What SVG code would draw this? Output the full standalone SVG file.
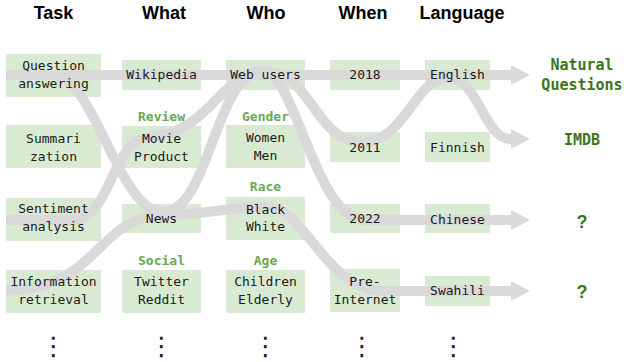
<svg xmlns="http://www.w3.org/2000/svg" width="624" height="362" viewBox="0 0 624 362">
<defs>
<style>
.box{fill:#d9ead3}
.flow{fill:none;stroke:#d9d9d9;stroke-width:10}
.arrowed{marker-end:url(#arrow)}
.hd{font-family:"Liberation Sans",Arial,sans-serif;font-weight:bold;font-size:18px;fill:#000;text-anchor:middle}
.t{font-family:"DejaVu Sans Mono","Liberation Mono",monospace;font-size:13px;fill:#1a1a1a;text-anchor:middle}
.grp{font-family:"DejaVu Sans Mono","Liberation Mono",monospace;font-size:13px;font-weight:bold;fill:#6aa84f;text-anchor:middle}
.res{font-family:"DejaVu Sans Mono","Liberation Mono",monospace;font-size:15px;font-weight:bold;fill:#38761d;text-anchor:middle}
.q{font-family:"Liberation Sans",Arial,sans-serif;font-size:18px;font-weight:bold;fill:#38761d;text-anchor:middle}
.dots{font-family:"DejaVu Sans",sans-serif;font-size:26px;fill:#222;text-anchor:middle}
</style>
<marker id="arrow" markerUnits="userSpaceOnUse" markerWidth="20" markerHeight="20" viewBox="0 0 20 20" refX="0" refY="10" orient="auto">
<path d="M0,0 L19,10 L0,20 Z" fill="#d9d9d9"/>
</marker>
</defs>
<rect width="624" height="362" fill="#fff"/>

<g id="headers">
<text class="hd" x="53.5" y="19">Task</text>
<text class="hd" x="164" y="19">What</text>
<text class="hd" x="266" y="19">Who</text>
<text class="hd" x="363" y="19">When</text>
<text class="hd" x="462" y="19">Language</text>
</g>

<g id="boxes">
<rect id="box-qa" class="box" x="6" y="54" width="95" height="43"/>
<rect id="box-summ" class="box" x="6" y="125" width="95" height="43"/>
<rect id="box-sent" class="box" x="6" y="198" width="95" height="43"/>
<rect id="box-info" class="box" x="6" y="270" width="95" height="43"/>
<rect id="box-wiki" class="box" x="122" y="60" width="79" height="30"/>
<rect id="box-review" class="box" x="122" y="126" width="79" height="42"/>
<rect id="box-news" class="box" x="122" y="204" width="79" height="29"/>
<rect id="box-social" class="box" x="122" y="270" width="79" height="43"/>
<rect id="box-web" class="box" x="226" y="60" width="79" height="30"/>
<rect id="box-gender" class="box" x="226" y="125" width="79" height="43"/>
<rect id="box-race" class="box" x="226" y="197" width="79" height="43"/>
<rect id="box-age" class="box" x="226" y="270" width="79" height="43"/>
<rect id="box-2018" class="box" x="330" y="60" width="70" height="30"/>
<rect id="box-2011" class="box" x="330" y="132" width="70" height="30"/>
<rect id="box-2022" class="box" x="330" y="204" width="70" height="29"/>
<rect id="box-pre" class="box" x="330" y="269" width="70" height="43"/>
<rect id="box-en" class="box" x="425" y="60" width="65" height="30"/>
<rect id="box-fi" class="box" x="425" y="132" width="65" height="30"/>
<rect id="box-zh" class="box" x="425" y="204" width="65" height="29"/>
<rect id="box-sw" class="box" x="425" y="276" width="65" height="30"/>
</g>

<g id="connectors">
<path class="flow arrowed" d="M6,75 H511"/>
<path class="flow arrowed" d="M6,220 H72 C112,220 110,140 150,137 C210,133 222,71 263,71 C313,71 313,142 363,142 C405,142 415,78 447,78 C480,78 483,139 511,139"/>
<path class="flow arrowed" d="M6,75 H52 C95,75 118,212 163,212 C210,212 215,71 263,71 C295,71 315,220 365,220 H511"/>
<path class="flow arrowed" d="M6,290 C100,290 95,216 165,215 C210,214 228,207 268,207 C305,207 325,291 385,291 H511"/>
</g>

<g id="node-qa"><text class="t" x="53.5" y="69.5">Question</text><text class="t" x="53.5" y="87.5">answering</text></g>
<g id="node-summ"><text class="t" x="53.5" y="142.5">Summari</text><text class="t" x="53.5" y="160.5">zation</text></g>
<g id="node-sent"><text class="t" x="53.5" y="213">Sentiment</text><text class="t" x="53.5" y="231">analysis</text></g>
<g id="node-info"><text class="t" x="53.5" y="286">Information</text><text class="t" x="53.5" y="304">retrieval</text></g>

<g id="node-wiki"><text class="t" x="161.5" y="79">Wikipedia</text></g>
<g id="node-review"><text class="grp" x="161.5" y="120.5">Review</text><text class="t" x="161.5" y="142.5">Movie</text><text class="t" x="161.5" y="160.5">Product</text></g>
<g id="node-news"><text class="t" x="161.5" y="223">News</text></g>
<g id="node-social"><text class="grp" x="161.5" y="264.5">Social</text><text class="t" x="161.5" y="286">Twitter</text><text class="t" x="161.5" y="304">Reddit</text></g>

<g id="node-web"><text class="t" x="265.5" y="79">Web users</text></g>
<g id="node-gender"><text class="grp" x="265.5" y="120.5">Gender</text><text class="t" x="265.5" y="142">Women</text><text class="t" x="265.5" y="160">Men</text></g>
<g id="node-race"><text class="grp" x="265.5" y="190.5">Race</text><text class="t" x="265.5" y="213.5">Black</text><text class="t" x="265.5" y="231">White</text></g>
<g id="node-age"><text class="grp" x="265.5" y="264.5">Age</text><text class="t" x="265.5" y="286">Children</text><text class="t" x="265.5" y="304">Elderly</text></g>

<g id="node-2018"><text class="t" x="365" y="79">2018</text></g>
<g id="node-2011"><text class="t" x="365" y="151.5">2011</text></g>
<g id="node-2022"><text class="t" x="365" y="223">2022</text></g>
<g id="node-pre"><text class="t" x="365" y="286">Pre-</text><text class="t" x="365" y="304">Internet</text></g>

<g id="node-en"><text class="t" x="457.5" y="79">English</text></g>
<g id="node-fi"><text class="t" x="457.5" y="151.5">Finnish</text></g>
<g id="node-zh"><text class="t" x="457.5" y="223.5">Chinese</text></g>
<g id="node-sw"><text class="t" x="457.5" y="295">Swahili</text></g>

<g id="node-nq"><text class="res" x="582" y="69.5">Natural</text><text class="res" x="582" y="89.5">Questions</text></g>
<g id="node-imdb"><text class="res" x="582" y="145">IMDB</text></g>
<g id="node-q1"><text class="q" x="582" y="228">?</text></g>
<g id="node-q2"><text class="q" x="582" y="298">?</text></g>

<g id="ellipses">
<text class="dots" x="53.5" y="355">⋮</text>
<text class="dots" x="161.5" y="355">⋮</text>
<text class="dots" x="265.5" y="355">⋮</text>
<text class="dots" x="362" y="355">⋮</text>
<text class="dots" x="453.5" y="355">⋮</text>
</g>
</svg>
